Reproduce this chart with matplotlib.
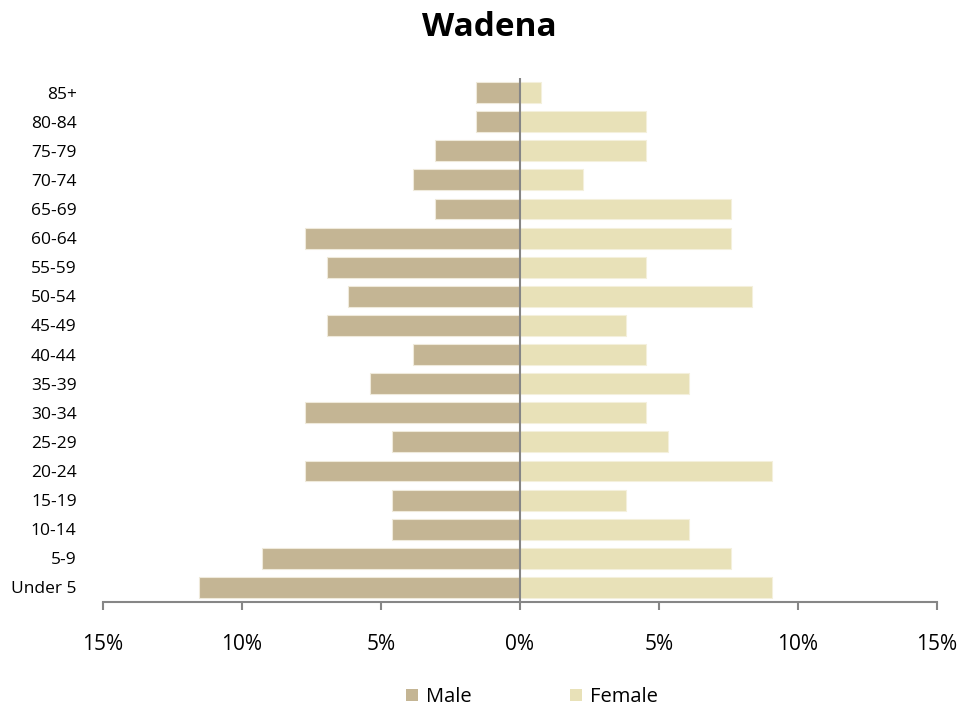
import matplotlib
matplotlib.use("Agg")
import matplotlib.pyplot as plt
from matplotlib.patches import Patch
from matplotlib.ticker import FuncFormatter

plt.rcParams['font.family'] = ['Open Sans', 'DejaVu Sans']

ages = ["Under 5", "5-9", "10-14", "15-19", "20-24", "25-29", "30-34", "35-39",
        "40-44", "45-49", "50-54", "55-59", "60-64", "65-69", "70-74", "75-79",
        "80-84", "85+"]
male = [11.55, 9.28, 4.6, 4.6, 7.73, 4.6, 7.73, 5.4, 3.85, 6.94, 6.19, 6.94,
        7.73, 3.06, 3.85, 3.06, 1.58, 1.58]
female = [9.06, 7.59, 6.08, 3.81, 9.06, 5.32, 4.53, 6.08, 4.53, 3.81, 8.35, 4.53,
          7.59, 7.59, 2.27, 4.53, 4.53, 0.76]

male_color = "#C4B594"
female_color = "#E8E1B8"

fig = plt.figure(figsize=(9.79, 7.13), dpi=100)
ax = fig.add_axes([103/979, 1 - 602/713, (937-103)/979, (602-78)/713])

y = list(range(len(ages)))
ax.barh(y, [-m for m in male], height=0.72, color=male_color, edgecolor="#EFEADB", linewidth=0.8)
ax.barh(y, female, height=0.72, color=female_color, edgecolor="#F4F0DC", linewidth=0.8)

ax.set_xlim(-15, 15)
ax.set_ylim(-0.5, len(ages) - 0.5)
ax.axvline(0, color="#868686", linewidth=1.5, zorder=3)

ax.set_yticks(y)
ax.set_yticklabels(ages, fontsize=12.5)
ax.tick_params(axis='y', length=0, pad=19)

ax.set_xticks([-15, -10, -5, 0, 5, 10, 15])
ax.xaxis.set_major_formatter(FuncFormatter(lambda v, p: f"{abs(int(round(v)))}%"))
ax.tick_params(axis='x', labelsize=15, length=6, width=1.5, color="#868686", pad=17, direction='out')

for s in ['top', 'right', 'left']:
    ax.spines[s].set_visible(False)
ax.spines['bottom'].set_color("#868686")
ax.spines['bottom'].set_linewidth(1.5)

fig.text(0.5, 1 - 27/713, "Wadena", ha='center', va='center', fontsize=24, fontweight='bold')

handles = [Patch(facecolor=male_color, label="Male"), Patch(facecolor=female_color, label="Female")]
fig.legend(handles=handles, loc='center', bbox_to_anchor=(532/979, 1 - 697/713), ncol=2,
           frameon=False, fontsize=14.5, handlelength=0.6, handleheight=0.6,
           handletextpad=0.4, columnspacing=4.9)

fig.savefig("out.png", dpi=100)
